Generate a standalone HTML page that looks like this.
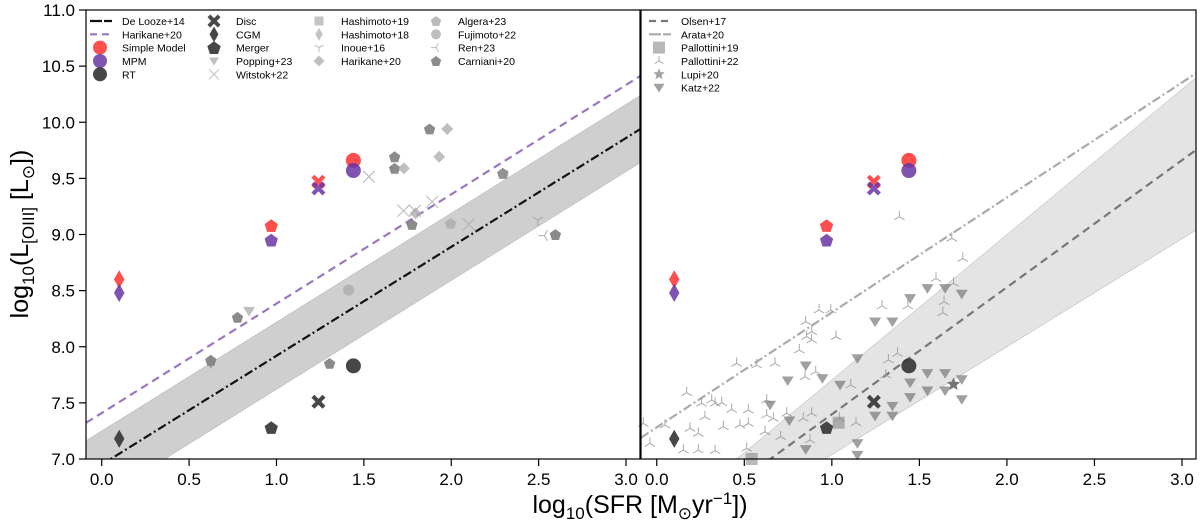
<!DOCTYPE html>
<html><head><meta charset="utf-8">
<style>
html,body{margin:0;padding:0;background:#fff;overflow:hidden;width:1200px;height:524px;}
svg{display:block;font-family:"Liberation Sans","DejaVu Sans",sans-serif;}
</style></head>
<body>
<svg id="chart" width="1200" height="524" viewBox="0 0 1200 524" xmlns="http://www.w3.org/2000/svg"></svg>
<script>
// ---- data ----
const xTicks = [0.0, 0.5, 1.0, 1.5, 2.0, 2.5, 3.0];
const yTicks = [7.0, 7.5, 8.0, 8.5, 9.0, 9.5, 10.0, 10.5, 11.0];
const modelSfr = [0.1, 0.97, 1.24, 1.44];
const modelShapes = ['diamond', 'pentagon', 'xbold', 'circle'];
const simpleModelL = [8.6, 9.08, 9.47, 9.66];
const mpmL = [8.48, 8.95, 9.41, 9.57];
const rtL = [7.18, 7.28, 7.51, 7.83];
// lines: [slope, intercept]
const deLooze = [0.97, 6.95];
const deLoozeScatter = 0.3;
const harikaneLine = [0.974, 7.41];
const olsenLine = [1.132, 6.266];
const arataLine = [1.024, 7.282];
const olsenBandUpper = [1.295, 6.409];
const olsenBandLower = [0.962, 6.076];
// left panel observations
const carnianiX = [1.876, 1.676, 1.676, 2.295, 1.775, 2.596, 0.777, 1.304, 0.624];
const carnianiY = [9.94, 9.693, 9.589, 9.545, 9.09, 9.0, 8.262, 7.852, 7.88];
const harikaneX = [1.977, 1.931, 1.729, 1.796];
const harikaneY = [9.94, 9.693, 9.589, 9.188];
const witstokX = [1.529, 1.727, 1.792, 1.891, 2.1];
const witstokY = [9.515, 9.212, 9.212, 9.292, 9.09];
const inoueX = [2.495]; const inoueY = [9.129];
const renX = [2.533]; const renY = [8.99];
const poppingX = [0.843]; const poppingY = [8.318];
const fujimotoX = [1.413]; const fujimotoY = [8.505];
const algeraX = [1.996]; const algeraY = [9.099];
const hashimoto18X = [0.624]; const hashimoto18Y = [7.86];
const hashimoto19X = [2.3]; const hashimoto19Y = [9.535];
// right panel simulations
const pallottini22X = [1.386,1.685,1.748,1.595,1.695,1.641,1.634,1.287,1.434,0.927,0.994,0.851,0.885,0.856,1.024,0.885,0.814,1.375,1.323,0.456,0.571,0.675,0.847,0.908,1.108,1.308,0.171,0.314,0.256,0.333,0.371,0.628,0.275,0.428,0.523,0.628,0.666,0.742,0.837,0.885,1.043,1.138,0.380,0.475,0.523,0.190,0.237,0.047,-0.077,-0.039,0.618,0.708,0.875,0.514,0.152,0.237,0.333];
const pallottini22Y = [9.159,8.966,8.787,8.609,8.565,8.401,8.303,8.363,8.363,8.327,8.327,8.223,8.134,8.09,8.09,8.06,7.971,7.941,7.882,7.852,7.837,7.852,7.733,7.778,7.659,7.748,7.591,7.525,7.496,7.496,7.502,7.525,7.377,7.442,7.436,7.392,7.362,7.407,7.362,7.407,7.362,7.323,7.288,7.302,7.317,7.273,7.228,7.302,7.317,7.139,7.243,7.199,7.169,7.095,7.08,7.08,7.074];
const katzX = [1.546,1.647,1.742,1.447,1.247,1.346,0.851,0.748,0.946,1.047,1.146,0.647,1.546,1.647,1.447,1.546,1.647,1.742,1.447,1.742,1.346,1.247,1.346,0.757,0.851,1.146,1.146];
const katzY = [8.52,8.52,8.47,8.431,8.223,8.223,7.831,7.698,7.718,7.659,7.896,7.481,7.763,7.763,7.68,7.608,7.608,7.709,7.549,7.531,7.472,7.383,7.383,7.341,7.086,7.139,7.035];
const pallottini19X = [1.039, 0.542]; const pallottini19Y = [7.323, 7.0];
const lupiX = [1.695]; const lupiY = [7.665];

// ---- layout ----
const NS = 'http://www.w3.org/2000/svg';
const svg = document.getElementById('chart');
const XMIN = -0.09, XMAX = 3.08, YMIN = 7.0, YMAX = 11.0;
const TOP = 10, BOT = 459;
const panels = [{l: 86, r: 640, name: 'left-panel'}, {l: 641, r: 1196, name: 'right-panel'}];
function sx(p, v){ return p.l + (v - XMIN) / (XMAX - XMIN) * (p.r - p.l); }
function sy(v){ return BOT - (v - YMIN) / (YMAX - YMIN) * (BOT - TOP); }
function mk(tag, attrs, parent){
  const e = document.createElementNS(NS, tag);
  for (const k in attrs) e.setAttribute(k, attrs[k]);
  (parent || svg).appendChild(e);
  return e;
}
function poly(cx, cy, r, n, rot){
  const pts = [];
  for (let i = 0; i < n; i++){ const a = rot + i * 2 * Math.PI / n; pts.push((cx + r*Math.cos(a)).toFixed(1) + ',' + (cy + r*Math.sin(a)).toFixed(1)); }
  return pts.join(' ');
}
function marker(g, shape, cx, cy, r, fill, opacity, stroke){
  let e;
  const st = {fill: fill, 'fill-opacity': opacity};
  if (stroke) { st.stroke = stroke; st['stroke-width'] = 0.6; }
  if (shape === 'circle') e = mk('circle', Object.assign({cx, cy, r}, st), g);
  else if (shape === 'diamond') e = mk('polygon', Object.assign({points: `${cx},${cy-r*1.3} ${cx+r*0.75},${cy} ${cx},${cy+r*1.3} ${cx-r*0.75},${cy}`}, st), g);
  else if (shape === 'diamondw') e = mk('polygon', Object.assign({points: `${cx},${cy-r} ${cx+r},${cy} ${cx},${cy+r} ${cx-r},${cy}`}, st), g);
  else if (shape === 'pentagon') e = mk('polygon', Object.assign({points: poly(cx, cy + r*0.1, r, 5, -Math.PI/2)}, st), g);
  else if (shape === 'square') e = mk('rect', Object.assign({x: cx-r, y: cy-r, width: 2*r, height: 2*r}, st), g);
  else if (shape === 'tridown') e = mk('polygon', Object.assign({points: `${cx-r},${cy-r*0.7} ${cx+r},${cy-r*0.7} ${cx},${cy+r*0.9}`}, st), g);
  else if (shape === 'star') {
    const pts = [];
    for (let i = 0; i < 10; i++){ const a = -Math.PI/2 + i*Math.PI/5; const rr = i%2 ? r*0.45 : r; pts.push((cx+rr*Math.cos(a)).toFixed(1)+','+(cy+rr*Math.sin(a)).toFixed(1)); }
    e = mk('polygon', Object.assign({points: pts.join(' ')}, st), g);
  }
  else if (shape === 'xbold') {
    const w = r*0.42, k = r;
    const d = `M${cx-k},${cy-k+w} L${cx-k+w},${cy-k} L${cx},${cy-w} L${cx+k-w},${cy-k} L${cx+k},${cy-k+w} L${cx+w},${cy} L${cx+k},${cy+k-w} L${cx+k-w},${cy+k} L${cx},${cy+w} L${cx-k+w},${cy+k} L${cx-k},${cy+k-w} L${cx-w},${cy} Z`;
    e = mk('path', Object.assign({d}, st), g);
  }
  else if (shape === 'x') e = mk('path', {d: `M${cx-r},${cy-r}L${cx+r},${cy+r}M${cx-r},${cy+r}L${cx+r},${cy-r}`, stroke: fill, 'stroke-opacity': opacity, 'stroke-width': 1.1, fill: 'none'}, g);
  else if (shape === 'Y' || shape === 'lambda' || shape === 'ren') {
    // Y: stem down, arms up; lambda: stem up, legs down; ren: stem left
    const rot = shape === 'Y' ? Math.PI/2 : shape === 'lambda' ? -Math.PI/2 : Math.PI;
    let d = '';
    for (let i = 0; i < 3; i++){ const a = rot + i*2*Math.PI/3; d += `M${cx},${cy}L${(cx + r*Math.cos(a)).toFixed(1)},${(cy + r*Math.sin(a)).toFixed(1)}`; }
    e = mk('path', {d, stroke: fill, 'stroke-opacity': opacity, 'stroke-width': 1, fill: 'none'}, g);
  }
  return e;
}
function scatter(p, name, xs, ys, shape, r, fill, op, stroke){
  const g = mk('g', {});
  
  
  for (let i = 0; i < xs.length; i++){
    const e = marker(g, shape, sx(p, xs[i]), sy(ys[i]), r, fill, op, stroke);
    
    
  }
}
function line(p, name, coef, color, dash, width){
  const e = mk('line', {x1: sx(p, XMIN), y1: sy(coef[0]*XMIN + coef[1]), x2: sx(p, XMAX), y2: sy(coef[0]*XMAX + coef[1]), stroke: color, 'stroke-width': width, 'stroke-dasharray': dash, 'clip-path': 'url(#clip-' + p.name + ')'});
  
  
}
function band(p, name, up, lo, color){
  const xs = [XMIN, XMAX];
  const d = `M${sx(p,xs[0])},${sy(up[0]*xs[0]+up[1])} L${sx(p,xs[1])},${sy(up[0]*xs[1]+up[1])} L${sx(p,xs[1])},${sy(lo[0]*xs[1]+lo[1])} L${sx(p,xs[0])},${sy(lo[0]*xs[0]+lo[1])} Z`;
  const e = mk('path', {d, fill: color, stroke: '#aaa', 'stroke-width': 0.5, 'clip-path': 'url(#clip-' + p.name + ')'});
  
  
}

const defs = mk('defs', {});
panels.forEach(p => {
  const cp = mk('clipPath', {id: 'clip-' + p.name}, defs);
  mk('rect', {x: p.l, y: TOP, width: p.r - p.l, height: BOT - TOP}, cp);
});

const L = panels[0], R = panels[1];
// left panel
band(L, 'de-looze-scatter-band', [deLooze[0], deLooze[1] + deLoozeScatter], [deLooze[0], deLooze[1] - deLoozeScatter], '#cfcfcf');
line(L, 'de-looze-line', deLooze, '#111', '9,3,2,3', 2.2);
line(L, 'harikane-line', harikaneLine, '#9b77c2', '8,5', 2.2);
scatter(L, 'carniani20', carnianiX, carnianiY, 'pentagon', 6, '#777', 0.85);
scatter(L, 'hashimoto18', hashimoto18X, hashimoto18Y, 'diamond', 5, '#888', 0.7);
scatter(L, 'harikane20-obs', harikaneX, harikaneY, 'diamondw', 6, '#aaa', 0.75);
scatter(L, 'witstok22', witstokX, witstokY, 'x', 6, '#aaa', 0.8);
scatter(L, 'inoue16', inoueX, inoueY, 'Y', 6, '#999', 0.8);
scatter(L, 'ren23', renX, renY, 'ren', 6, '#999', 0.8);
scatter(L, 'popping23', poppingX, poppingY, 'tridown', 6, '#aaa', 0.75);
scatter(L, 'fujimoto22', fujimotoX, fujimotoY, 'circle', 5.5, '#aaa', 0.75);
scatter(L, 'algera23', algeraX, algeraY, 'pentagon', 6, '#aaa', 0.8);
scatter(L, 'hashimoto19', hashimoto19X, hashimoto19Y, 'square', 4.5, '#999', 0.5);
// right panel
band(R, 'olsen-band', olsenBandUpper, olsenBandLower, '#e4e4e4');
line(R, 'arata-line', arataLine, '#aaa', '9,3,2,3', 2.2);
line(R, 'olsen-line', olsenLine, '#777', '8,5', 2.2);
scatter(R, 'pallottini22', pallottini22X, pallottini22Y, 'lambda', 6, '#999', 0.85);
scatter(R, 'katz22', katzX, katzY, 'tridown', 6, '#777', 0.7);
scatter(R, 'pallottini19', pallottini19X, pallottini19Y, 'square', 6, '#888', 0.6);
scatter(R, 'lupi20', lupiX, lupiY, 'star', 7, '#666', 0.9);
// models on both panels
[L, R].forEach(p => {
  for (let i = 0; i < modelSfr.length; i++){
    const sz = modelShapes[i] === 'circle' ? 7.5 : 7;
    [[simpleModelL, '#ff3b3b', 0.9, 'simple-model'], [mpmL, '#6a35a6', 0.85, 'mpm'], [rtL, '#333', 0.9, 'rt']].forEach(s => {
      const e = marker(svg, modelShapes[i], sx(p, modelSfr[i]), sy(s[0][i]), sz, s[1], s[2]);
      
      
    });
  }
});

// axes
panels.forEach((p, pi) => {
  const f = mk('rect', {x: p.l, y: TOP, width: p.r - p.l, height: BOT - TOP, fill: 'none', stroke: '#000', 'stroke-width': 1.2});
  
  
  xTicks.forEach(t => {
    const x = sx(p, t);
    const tk = mk('line', {x1: x, y1: BOT, x2: x, y2: BOT + 7, stroke: '#000', 'stroke-width': 1.2});
    
    
    const tl = mk('text', {x: x, y: BOT + 26, 'font-size': 17, 'text-anchor': 'middle'});
    tl.textContent = t.toFixed(1);
    
    
  });
});
yTicks.forEach(t => {
  const y = sy(t);
  const tk = mk('line', {x1: L.l - 7, y1: y, x2: L.l, y2: y, stroke: '#000', 'stroke-width': 1.2});
  
  
  const tl = mk('text', {x: L.l - 11, y: y + 6, 'font-size': 17, 'text-anchor': 'end'});
  tl.textContent = t.toFixed(1);
  
  
});

// legends
function legendEntry(x, y, label, drawFn, name){
  const g = mk('g', {});
  
  
  drawFn(g, x, y);
  const t = mk('text', {x: x + 22, y: y + 4, 'font-size': 10.5}, g);
  t.textContent = label;
}
const rowY = [21, 34.3, 47.6, 61, 74.3, 87.6];
const lineSym = (c, dash) => (g, x, y) => mk('line', {x1: x - 10, y1: y, x2: x + 12, y2: y, stroke: c, 'stroke-width': 2.2, 'stroke-dasharray': dash}, g);
const mSym = (shape, r, c, op) => (g, x, y) => marker(g, shape, x, y, r, c, op);
const leftLegend = [
  [100, 'De Looze+14', lineSym('#111', '12,2'), 'legend-de-looze'],
  [100, 'Harikane+20', lineSym('#9b77c2', '7,5'), 'legend-harikane-line'],
  [100, 'Simple Model', mSym('circle', 7, '#ff3b3b', 0.9), 'legend-simple-model'],
  [100, 'MPM', mSym('circle', 7, '#6a35a6', 0.85), 'legend-mpm'],
  [100, 'RT', mSym('circle', 7, '#333', 0.9), 'legend-rt'],
  [214, 'Disc', mSym('xbold', 6.5, '#333', 0.9), 'legend-disc'],
  [214, 'CGM', mSym('diamond', 6, '#333', 0.9), 'legend-cgm'],
  [214, 'Merger', mSym('pentagon', 7, '#333', 0.9), 'legend-merger'],
  [214, 'Popping+23', mSym('tridown', 5, '#aaa', 0.75), 'legend-popping'],
  [214, 'Witstok+22', mSym('x', 5, '#bbb', 0.8), 'legend-witstok'],
  [319, 'Hashimoto+19', mSym('square', 4.5, '#aaa', 0.7), 'legend-hashimoto19'],
  [319, 'Hashimoto+18', mSym('diamond', 5, '#aaa', 0.7), 'legend-hashimoto18'],
  [319, 'Inoue+16', mSym('Y', 5, '#aaa', 0.8), 'legend-inoue'],
  [319, 'Harikane+20', mSym('diamondw', 5.5, '#aaa', 0.75), 'legend-harikane-obs'],
  [436, 'Algera+23', mSym('pentagon', 5.5, '#aaa', 0.8), 'legend-algera'],
  [436, 'Fujimoto+22', mSym('circle', 5, '#aaa', 0.75), 'legend-fujimoto'],
  [436, 'Ren+23', mSym('ren', 5, '#aaa', 0.8), 'legend-ren'],
  [436, 'Carniani+20', mSym('pentagon', 5.5, '#777', 0.85), 'legend-carniani'],
];
const counts = {};
leftLegend.forEach(e => { counts[e[0]] = (counts[e[0]] || 0); legendEntry(e[0], rowY[counts[e[0]]++], e[1], e[2], e[3]); });
const rightLegend = [
  ['Olsen+17', lineSym('#777', '7,5'), 'legend-olsen'],
  ['Arata+20', lineSym('#aaa', '12,2'), 'legend-arata'],
  ['Pallottini+19', mSym('square', 6, '#999', 0.7), 'legend-pallottini19'],
  ['Pallottini+22', mSym('lambda', 5, '#999', 0.85), 'legend-pallottini22'],
  ['Lupi+20', mSym('star', 6, '#999', 0.9), 'legend-lupi'],
  ['Katz+22', mSym('tridown', 5.5, '#888', 0.8), 'legend-katz'],
];
rightLegend.forEach((e, i) => legendEntry(659, rowY[i], e[0], e[1], e[2]));

// axis titles
const xt = mk('text', {x: 640, y: 513, 'font-size': 25, 'text-anchor': 'middle'});


xt.innerHTML = 'log<tspan font-size="17" dy="6">10</tspan><tspan dy="-6">(SFR [M</tspan><tspan font-size="17" dy="6">⊙</tspan><tspan dy="-6">yr</tspan><tspan font-size="17" dy="-9">−1</tspan><tspan dy="9">])</tspan>';
const yt = mk('text', {x: 0, y: 0, 'font-size': 25, 'text-anchor': 'middle', transform: 'translate(28,234) rotate(-90)'});


yt.innerHTML = 'log<tspan font-size="17" dy="6">10</tspan><tspan dy="-6">(L</tspan><tspan font-size="17" dy="6">[OIII]</tspan><tspan dy="-6"> [L</tspan><tspan font-size="17" dy="6">⊙</tspan><tspan dy="-6">])</tspan>';
</script>
</body></html>
